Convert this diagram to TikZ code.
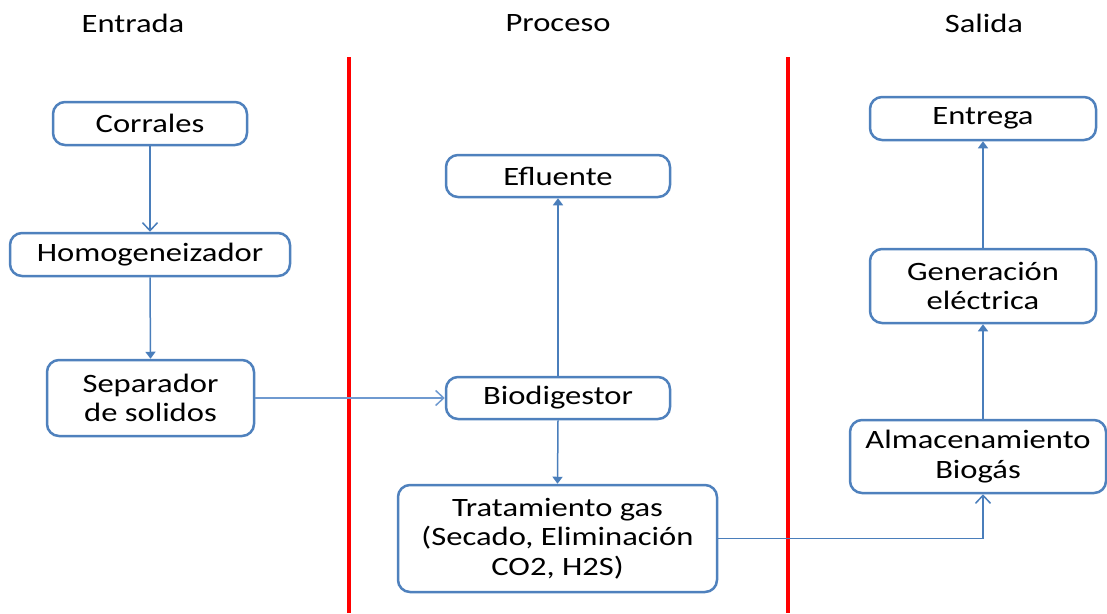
\documentclass[tikz,border=0pt]{standalone}
\usepackage{fontspec}
\setmainfont{Carlito}[FakeStretch=1.23]
\usetikzlibrary{arrows.meta}
\definecolor{boxblue}{HTML}{4F81BD}
\definecolor{linkblue}{HTML}{4A7EBB}
\definecolor{lightlink}{HTML}{6F9AD0}
\begin{document}
\begin{tikzpicture}[x=1pt,y=-1pt,
  stage/.style={draw=boxblue,line width=2.5pt,rounded corners=12pt,fill=white,
    align=center,inner sep=0pt,font=\fontsize{26.5}{29.5}\selectfont},
  head/.style={font=\fontsize{26.5}{29.5}\selectfont},
  flow/.style={draw=linkblue,line width=1.5pt,-{Triangle[length=7pt,width=10pt]}},
  feed/.style={draw=linkblue,line width=1.5pt,-{Straight Barb[length=8pt,width=15pt,line width=1.5pt]}},
  border/.style={draw=red,line width=4pt}]
\useasboundingbox (0,0) rectangle (1107,613);

% column titles
\node[head] (tin)  at (133,23) {Entrada};
\node[head] (tpro) at (558,23) {Proceso};
\node[head] (tout) at (984,23) {Salida};

% dividing lines between the columns
\draw[border] (349,57) -- (349,613);
\draw[border] (788,57) -- (788,613);

% input column
\node[stage,minimum width=194pt,minimum height=43pt] (corr) at (150,123.5) {Corrales};
\node[stage,minimum width=280pt,minimum height=43pt] (homo) at (150,254.5) {Homogeneizador};
\node[stage,minimum width=207pt,minimum height=76pt] (sep)  at (150.5,398) {Separador\\de solidos};

% process column
\node[stage,minimum width=224pt,minimum height=42pt] (efl)  at (558,176) {Efluente};
\node[stage,minimum width=224pt,minimum height=42pt] (bio)  at (558,398) {Biodigestor};
\node[stage,minimum width=319pt,minimum height=107pt] (trat) at (557.5,538.5) {Tratamiento gas\\(Secado, Eliminación\\CO2, H2S)};

% output column
\node[stage,minimum width=226pt,minimum height=43pt] (ent)  at (983,118.5) {Entrega};
\node[stage,minimum width=226pt,minimum height=74pt] (gen)  at (983,286) {Generación\\eléctrica};
\node[stage,minimum width=256pt,minimum height=73pt] (alm)  at (978,456.5) {Almacenamiento\\Biogás};

% connectors
\draw[feed] (corr.south) -- (homo.north);
\draw[flow] (homo.south) -- (sep.north);
\draw[feed,draw=lightlink,line width=1.2pt] (sep.east) -- (bio.west);
\draw[flow] (bio.north) -- (efl.south);
\draw[flow] (bio.south) -- (trat.north);
\draw[feed] (trat.east) -| (alm.south -| gen.south);
\draw[flow] (alm.north -| gen.south) -- (gen.south);
\draw[flow] (gen.north) -- (ent.south);
\end{tikzpicture}
\end{document}
